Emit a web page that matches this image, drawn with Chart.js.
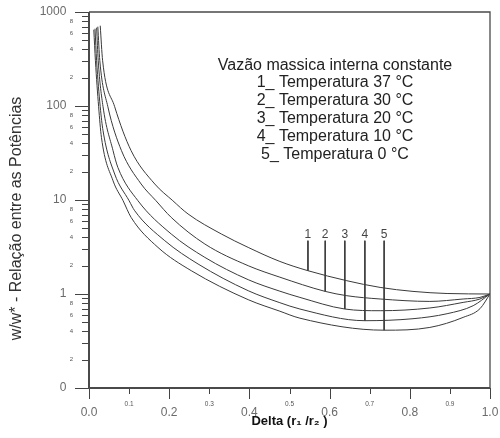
<!DOCTYPE html>
<html>
<head>
<meta charset="utf-8">
<script src="https://cdn.jsdelivr.net/npm/chart.js@4.4.1/dist/chart.umd.min.js"></script>
<style>
    html, body { margin: 0; padding: 0; background: #fff; }
    #cadre { width: 500px; height: 438px; position: relative; }
</style>
</head>
<body>
<div id="cadre"><canvas id="graphiquePotences"></canvas></div>
<script>
// Courbes : Delta (r1/r2) -> w/w*
const delta1 = [0.028, 0.034, 0.064, 0.105, 0.164, 0.209, 0.247, 0.330, 0.397, 0.476, 0.546, 0.643, 0.726, 0.808, 0.893, 1.0];
const ratio1 = [715, 303, 98.3, 33.5, 14.8, 9.83, 7.10, 4.35, 3.13, 2.22, 1.77, 1.385, 1.175, 1.066, 1.012, 1.0];

const delta2 = [0.022, 0.027, 0.047, 0.081, 0.130, 0.167, 0.205, 0.289, 0.397, 0.476, 0.589, 0.643, 0.726, 0.850, 0.933, 0.975, 1.0];
const ratio2 = [698, 303, 98.3, 33.5, 14.8, 9.83, 6.53, 3.40, 2.00, 1.51, 1.066, 0.959, 0.885, 0.834, 0.885, 0.920, 1.0];

const delta3 = [0.019, 0.023, 0.035, 0.060, 0.072, 0.122, 0.205, 0.289, 0.397, 0.476, 0.526, 0.638, 0.726, 0.850, 0.933, 0.975, 1.0];
const ratio3 = [681, 303, 98.3, 33.5, 22.2, 9.83, 4.35, 2.45, 1.42, 1.071, 0.920, 0.692, 0.664, 0.710, 0.814, 0.885, 1.0];

const delta4 = [0.015, 0.019, 0.028, 0.035, 0.064, 0.100, 0.114, 0.189, 0.272, 0.397, 0.476, 0.526, 0.688, 0.808, 0.893, 0.958, 1.0];
const ratio4 = [664, 303, 98.3, 54.6, 18.9, 9.83, 7.69, 3.69, 2.085, 1.084, 0.808, 0.692, 0.520, 0.546, 0.617, 0.751, 1.0];

const delta5 = [0.012, 0.016, 0.024, 0.031, 0.060, 0.085, 0.105, 0.172, 0.255, 0.397, 0.476, 0.526, 0.736, 0.850, 0.933, 0.975, 1.0];
const ratio5 = [648, 303, 98.3, 46.4, 16.0, 9.83, 6.53, 3.13, 1.77, 0.870, 0.656, 0.553, 0.412, 0.441, 0.564, 0.698, 1.0];

// repères verticaux 1..5
const repereDelta = [0.546, 0.589, 0.638, 0.688, 0.736];
const repereHaut = 3.69;
const repereBas = [1.77, 1.066, 0.692, 0.520, 0.412];
const repereNoms = ['1', '2', '3', '4', '5'];

const texteLegende = [
    'Vazão massica interna constante',
    '1_ Temperatura 37 °C',
    '2_ Temperatura 30 °C',
    '3_ Temperatura 20 °C',
    '4_ Temperatura 10 °C',
    '5_ Temperatura 0 °C'
];

// graduations
const xTicks = [0, 0.1, 0.2, 0.3, 0.4, 0.5, 0.6, 0.7, 0.8, 0.9, 1.0];
const yDecades = [0.1, 1, 10, 100];
const yChiffres = [1, 2, 3, 4, 5, 6, 7, 8, 9];
const yChiffresEtiquetes = [2, 4, 6, 8];
const yMax = 1000;

const titreX = 'Delta (r₁ /r₂ )';
const titreY = 'w/w* - Relação entre as Potências';

const police = "'Liberation Sans', Arial, sans-serif";
const gris = '#3a3a3a';

const yTicks = [];
yDecades.forEach(dec => yChiffres.forEach(c => yTicks.push(dec * c)));
yTicks.push(yMax);

function premierChiffre(v) {
    const p = Math.pow(10, Math.floor(Math.log10(v) + 1e-9));
    return Math.round(v / p);
}

function estMajeurX(v) {
    return Math.round(v * 10) % 2 === 0;
}

// le contexte n'a pas toujours de tick (mesure de l'axe)
function majeurX(c) {
    return !c.tick || estMajeurX(c.tick.value);
}

function majeurY(c) {
    return !c.tick || premierChiffre(c.tick.value) === 1;
}

function etiquetteY(v) {
    const c = premierChiffre(v);
    if (c === 1) {
        return (v < 0.5 ? '0' : String(Math.round(v))) + '  ';
    }
    return yChiffresEtiquetes.includes(c) ? String(c) : '';
}

const courbes = [[delta1, ratio1], [delta2, ratio2], [delta3, ratio3], [delta4, ratio4], [delta5, ratio5]];
const datasets = courbes.map(([d, r], i) => ({
    label: texteLegende[i + 1],
    data: d.map((x, j) => ({x: x, y: r[j]})),
    borderColor: gris,
    borderWidth: 1,
    pointRadius: 0,
    fill: false,
    cubicInterpolationMode: 'monotone'
}));

repereDelta.forEach((d, i) => {
    datasets.push({
        label: 'repère ' + repereNoms[i],
        data: [{x: d, y: repereHaut}, {x: d, y: repereBas[i]}],
        borderColor: gris,
        borderWidth: 1,
        pointRadius: 0,
        fill: false
    });
});

const habillage = {
    id: 'habillage',
    afterDraw(chart) {
        const {ctx, chartArea: a, scales: {x, y}} = chart;
        ctx.save();

        // petites graduations
        ctx.strokeStyle = '#444';
        ctx.lineWidth = 1;
        x.ticks.forEach(t => {
            const px = Math.round(x.getPixelForValue(t.value)) + 0.5;
            const l = estMajeurX(t.value) ? 11 : 6;
            ctx.beginPath();
            ctx.moveTo(px, a.bottom);
            ctx.lineTo(px, a.bottom + l);
            ctx.stroke();
        });
        y.ticks.forEach(t => {
            const py = Math.round(y.getPixelForValue(t.value)) + 0.5;
            const l = premierChiffre(t.value) === 1 ? 14 : 7;
            ctx.beginPath();
            ctx.moveTo(a.left - l, py);
            ctx.lineTo(a.left, py);
            ctx.stroke();
        });

        // cadre
        ctx.strokeStyle = '#4a4a4a';
        ctx.lineWidth = 1.3;
        ctx.beginPath();
        ctx.moveTo(a.left, a.top);
        ctx.lineTo(a.right, a.top);
        ctx.lineTo(a.right, a.bottom);
        ctx.stroke();
        ctx.lineWidth = 2;
        ctx.beginPath();
        ctx.moveTo(a.left, a.top);
        ctx.lineTo(a.left, a.bottom);
        ctx.lineTo(a.right, a.bottom);
        ctx.stroke();

        // numéros des repères
        ctx.fillStyle = '#444';
        ctx.font = '12px ' + police;
        ctx.textAlign = 'center';
        ctx.textBaseline = 'alphabetic';
        repereDelta.forEach((d, i) => {
            ctx.fillText(repereNoms[i], x.getPixelForValue(d), y.getPixelForValue(repereHaut) - 2.5);
        });

        // bloc de texte
        ctx.fillStyle = '#222';
        ctx.font = '16px ' + police;
        texteLegende.forEach((t, i) => {
            ctx.fillText(t, 335, 69.5 + i * 17.8);
        });

        // titre vertical
        ctx.translate(17, 218.5);
        ctx.rotate(-Math.PI / 2);
        ctx.fillStyle = '#333';
        ctx.font = '16px ' + police;
        ctx.textBaseline = 'middle';
        ctx.fillText(titreY, 0, 0);

        ctx.restore();
    }
};

Chart.defaults.font.family = police;

new Chart(document.getElementById('graphiquePotences').getContext('2d'), {
    type: 'line',
    data: {datasets: datasets},
    options: {
        responsive: true,
        maintainAspectRatio: false,
        animation: false,
        layout: {padding: {top: 12, right: 10, bottom: 0, left: 0}},
        plugins: {
            legend: {display: false},
            tooltip: {enabled: false}
        },
        scales: {
            x: {
                type: 'linear',
                min: 0,
                max: 1,
                afterBuildTicks: s => { s.ticks = xTicks.map(v => ({value: v})); },
                afterFit: s => {
                    s.height = 50;
                    s.paddingLeft = 0;
                    s.paddingRight = 0;
                },
                grid: {display: false, drawTicks: false},
                border: {display: false},
                ticks: {
                    autoSkip: false,
                    maxRotation: 0,
                    minRotation: 0,
                    padding: 13,
                    color: c => majeurX(c) ? '#6b6b6b' : '#555',
                    font: c => majeurX(c)
                        ? {family: police, size: 12, lineHeight: 2}
                        : {family: police, size: 6.5, lineHeight: 1},
                    callback: v => v.toFixed(1)
                },
                title: {
                    display: true,
                    text: titreX,
                    color: '#111',
                    font: {family: police, size: 13, weight: 'bold', lineHeight: 1.2},
                    padding: {top: 0, bottom: 9}
                }
            },
            y: {
                type: 'logarithmic',
                min: 0.1,
                max: yMax,
                afterBuildTicks: s => { s.ticks = yTicks.map(v => ({value: v})); },
                afterFit: s => {
                    s.width = 89;
                    s.paddingTop = 0;
                    s.paddingBottom = 0;
                },
                grid: {display: false, drawTicks: false},
                border: {display: false},
                ticks: {
                    autoSkip: false,
                    padding: 16,
                    color: c => majeurY(c) ? '#6b6b6b' : '#555',
                    font: c => majeurY(c)
                        ? {family: police, size: 12}
                        : {family: police, size: 6},
                    callback: v => etiquetteY(v)
                }
            }
        }
    },
    plugins: [habillage]
});
</script>
</body>
</html>
